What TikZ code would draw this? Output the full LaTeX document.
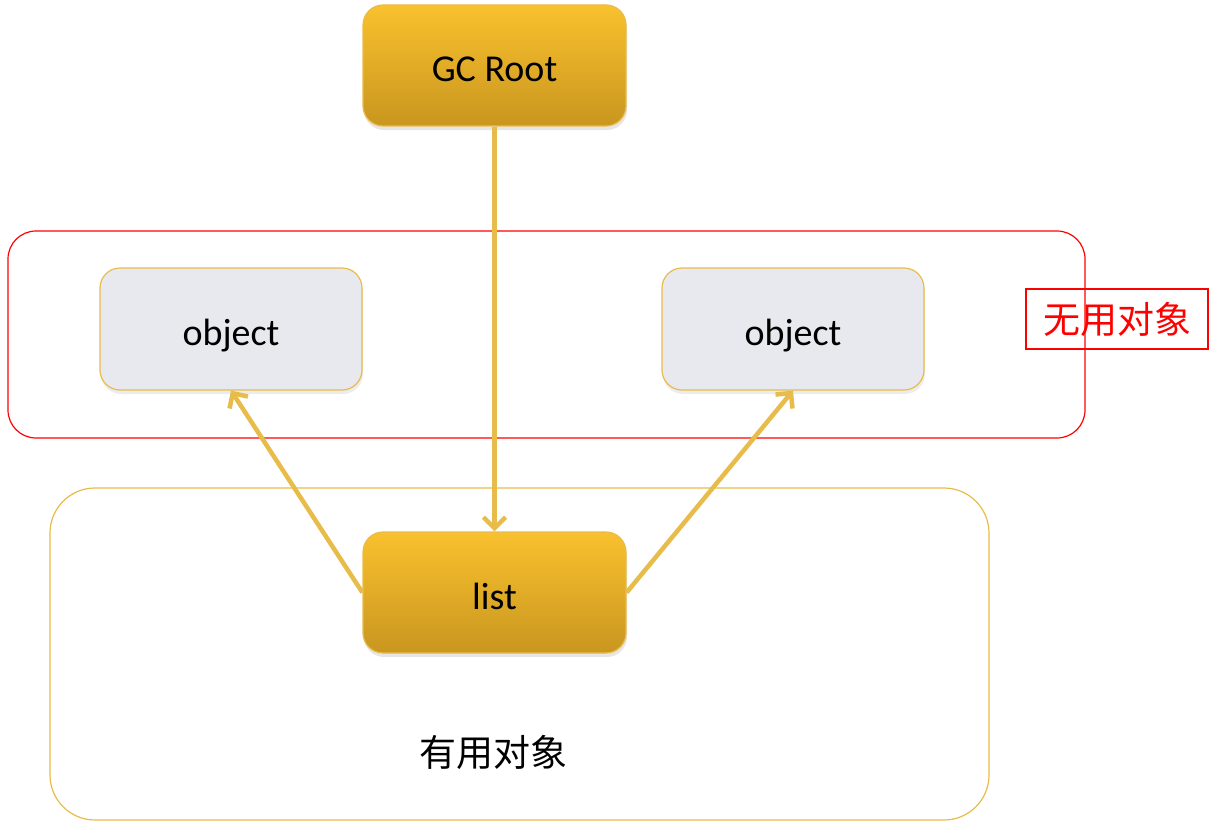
\documentclass[tikz,border=0pt]{standalone}
\usepackage{fontspec}
\setmainfont{Carlito}
\newfontfamily\cjk{Noto Sans CJK SC}
\usetikzlibrary{arrows.meta,shadows}
\definecolor{gold}{HTML}{E8BC4A}
\definecolor{goldtop}{HTML}{F9C12E}
\definecolor{goldbot}{HTML}{C9961F}
\definecolor{objfill}{HTML}{E8E9EE}
\definecolor{redline}{HTML}{FF0000}
\tikzset{
  goldbox/.style={rounded corners=20pt, draw=gold, line width=1.2pt, top color=goldtop, bottom color=goldbot,
    minimum width=263pt, minimum height=121pt, inner sep=0pt, font=\fontsize{38}{44}\selectfont,
    text height=33pt, text depth=0pt, drop shadow={opacity=0.2, shadow xshift=1pt, shadow yshift=-4pt}},
  objbox/.style={rounded corners=20pt, draw=gold, line width=1.2pt, fill=objfill,
    minimum width=262pt, minimum height=122pt, inner sep=0pt, font=\fontsize{38}{44}\selectfont,
    text height=33pt, text depth=0pt, drop shadow={opacity=0.15, shadow xshift=1pt, shadow yshift=-4pt}},
  conn/.style={draw=gold, line width=4.5pt, -{Straight Barb[length=11pt,width=22pt,line width=4.5pt]}},
}
\begin{document}
\begin{tikzpicture}[x=1pt,y=-1pt]
\useasboundingbox (0,0) rectangle (1209,832);
% group frames
\draw[redline, line width=1.2pt, rounded corners=28pt] (8,231) rectangle (1085,438);
\draw[gold, line width=1.2pt, rounded corners=45pt] (50,488) rectangle (989,820);
% label boxes
\node[draw=redline, line width=1.2pt, minimum width=182pt, minimum height=60pt, inner sep=0pt,
  text=redline, font=\cjk\fontsize{37}{42}\selectfont] (useless) at (1117,319) {无用对象};
\node[font=\cjk\fontsize{37}{42}\selectfont, text=black] (useful) at (493,752) {有用对象};
% nodes
\node[goldbox] (root) at (494.5,65.5) {GC Root};
\node[objbox] (objL) at (231,329) {object};
\node[objbox] (objR) at (793,329) {object};
\node[goldbox] (list) at (494.5,592.5) {list};
% connectors
\draw[conn] (root.south) -- (list.north);
\draw[conn] (list.west) -- (objL.south);
\draw[conn] (list.east) -- (objR.south);
\end{tikzpicture}
\end{document}
